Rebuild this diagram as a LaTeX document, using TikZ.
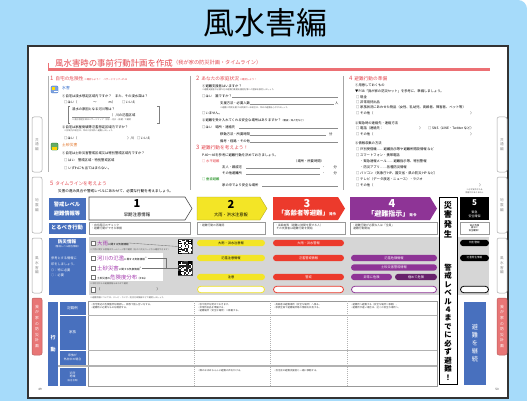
\documentclass[tikz,border=0pt]{standalone}
\usepackage{fontspec}
\setmainfont{Noto Sans CJK JP}
\definecolor{bgblue}{RGB}{166,219,250}
\definecolor{hdred}{RGB}{228,72,80}
\definecolor{barred}{RGB}{236,112,116}
\definecolor{lvblue}{RGB}{72,112,190}
\definecolor{lvyellow}{RGB}{243,229,38}
\definecolor{lvred}{RGB}{236,58,44}
\definecolor{lvpurple}{RGB}{142,52,150}
\definecolor{lvdeep}{RGB}{104,34,108}
\definecolor{areagray}{RGB}{214,214,214}
\definecolor{tabred}{RGB}{232,118,118}
\definecolor{infopurple}{RGB}{165,60,175}
\definecolor{suiblue}{RGB}{40,100,200}
\definecolor{doshaorange}{RGB}{225,110,30}
\tikzset{
  bodytxt/.style={inner sep=0pt,anchor=west,font=\fontsize{3.3}{4}\selectfont},
  tinytxt/.style={inner sep=0pt,anchor=west,text=black!65,font=\fontsize{2.1}{2.8}\selectfont},
  sechead/.style={inner sep=0pt,anchor=west,text=hdred,font=\fontsize{4.7}{5}\selectfont},
  bluelbl/.style={fill=lvblue,draw=white,line width=.5pt,text=white,align=center,inner sep=0pt},
  pillbox/.style={rounded corners=3.2pt,minimum height=6.4pt,inner sep=0pt,font=\fontsize{3.2}{3.2}\selectfont},
  sidetab/.style={draw=black!35,fill=white,rounded corners=2pt,line width=.5pt,minimum width=10pt,inner sep=0pt,text=black!45,align=center,font=\fontsize{3.6}{4.8}\selectfont},
  chkbox/.style={draw=black!55,fill=white,line width=.3pt,minimum size=4.4pt,inner sep=0pt},
  levelnum/.style={inner sep=0pt,font=\fontsize{11}{11}\selectfont\bfseries},
  rowtxt/.style={inner sep=0pt,anchor=north west,align=left,text=black!75,font=\fontsize{2.4}{3.2}\selectfont},
  fillline/.style={black!45,line width=.3pt},
}
\begin{document}
\begin{tikzpicture}[x=1pt,y=-1pt]
\useasboundingbox (0,0) rectangle (527,401);
\fill[white] (0,0) rectangle (527,401);
\fill[bgblue,rounded corners=9pt] (0,0) rectangle (527,401);
\fill[bgblue] (0,0) rectangle (20,20);
\fill[bgblue] (0,381) rectangle (20,401);
\fill[bgblue] (507,381) rectangle (527,401);
\node[inner sep=0pt,font=\fontsize{31}{31}\selectfont] (title) at (265,23) {風水害編};

\draw[fill=white,draw=black!80,line width=1.2pt] (28,46) rectangle (508,398);

\node[sidetab,minimum height=55pt] (tabL1) at (37,144.5) {共\\通\\編};
\node[sidetab,minimum height=56pt] (tabL2) at (37,205) {地\\震\\編};
\node[sidetab,minimum height=55pt] (tabL3) at (37,265.5) {風\\水\\害\\編};
\node[sidetab,minimum height=57pt,fill=tabred,draw=tabred!80!black,text=white,font=\fontsize{3.8}{5.6}\selectfont] (tabL4) at (37,326.5) {我\\が\\家\\の\\防\\災\\計\\画};
\node[sidetab,minimum height=55pt] (tabR1) at (502,144.5) {共\\通\\編};
\node[sidetab,minimum height=56pt] (tabR2) at (502,205) {地\\震\\編};
\node[sidetab,minimum height=55pt] (tabR3) at (502,265.5) {風\\水\\害\\編};
\node[sidetab,minimum height=57pt,fill=tabred,draw=tabred!80!black,text=white,font=\fontsize{3.8}{5.6}\selectfont] (tabR4) at (502,326.5) {我\\が\\家\\の\\防\\災\\計\\画};

\draw[barred,line width=2.4pt] (48,69.5) -- (490,69.5);
\draw[barred,line width=1pt] (48.5,63) -- (48.5,69);
\node[inner sep=0pt,anchor=west,text=hdred,font=\fontsize{8.4}{9}\selectfont] (head) at (55,63) {風水害時の事前行動計画を作成};
\node[inner sep=0pt,anchor=west,text=hdred,font=\fontsize{5.2}{6}\selectfont] (headsub) at (head.east) {（我が家の防災計画・タイムライン）};

\draw[black!30,line width=.5pt] (48.5,76) -- (48.5,172);
\draw[black!35,line width=.4pt] (190,76) -- (190,190);
\draw[black!35,line width=.4pt] (343,76) -- (343,190);

\node[sechead] (s1) at (50,79) {{\fontsize{6}{6}\selectfont 1}\, 自宅の危険性\,{\fontsize{2.4}{3}\selectfont ※確認しよう！　ハザードマップ→P.44}};
\node[fill=suiblue!60,draw=suiblue,line width=.3pt,minimum size=7pt,inner sep=0pt,rounded corners=1pt] (iconA) at (54.5,89.5) {};
\fill[yellow!80!orange] (52,87) rectangle (55,90);
\fill[white] (54,91) rectangle (57.5,92.5);
\node[bodytxt,text=suiblue,font=\fontsize{3.8}{4}\selectfont] (suigai) at (62,88) {水害};
\node[bodytxt] (q11) at (62,96) {①自宅は浸水想定区域内ですか？　また、その浸水深は？};
\node[bodytxt] (q11a) at (64,102) {□はい（\hspace{16pt}～\hspace{12pt}m）};
\node[bodytxt] (q11b) at (122,102) {□いいえ};
\draw[black!50,line width=.3pt] (70,106) -- (68,106) -- (68,123) -- (70,123);
\draw[black!50,line width=.3pt] (157,106) -- (159,106) -- (159,123) -- (157,123);
\node[bodytxt] (q11c) at (72,109) {浸水の原因となる河川等は？};
\node[bodytxt] (q11d) at (72,115) {\hspace{40pt}）川の氾濫区域};
\draw[fillline] (72,117) -- (110,117);
\node[tinytxt] (q11e) at (72,120) {※浸水想定区域はハザードマップ（洪水・内水・高潮）で確認};
\node[bodytxt] (q12) at (62,127) {②自宅は家屋倒壊等氾濫想定区域内ですか？};
\node[tinytxt] (q12n) at (64,131) {※区域内の場合は、早めに区域外へ避難しましょう。};
\node[bodytxt] (q12a) at (64,138) {□はい（\hspace{50pt}）川};
\node[bodytxt] (q12b) at (137,138) {□いいえ};
\node[fill=green!45!black!60,draw=green!40!black,line width=.3pt,minimum size=7pt,inner sep=0pt,rounded corners=1pt] (iconB) at (54.5,146.5) {};
\fill[yellow!70!orange] (52,147) rectangle (57,149.5);
\node[bodytxt,text=doshaorange,font=\fontsize{3.8}{4}\selectfont] (dosha) at (62,145) {土砂災害};
\node[bodytxt] (q13) at (62,153) {①自宅は土砂災害警戒区域又は特別警戒区域内ですか？};
\node[bodytxt] (q13a) at (64,160) {□ はい　警戒区域・特別警戒区域};
\node[bodytxt] (q13b) at (64,168) {□ いずれにも当てはまらない。};

\node[sechead] (s2) at (196,79) {{\fontsize{6}{6}\selectfont 2}\, あなたの家庭状況\,{\fontsize{2.4}{3}\selectfont ※確認しよう！}};
\node[bodytxt] (q21) at (202,86) {①避難支援者はいますか？};
\node[tinytxt] (q21n) at (202,90) {※避難支援者が必要な方は避難行動要支援者名簿への登録を検討しましょう。};
\node[bodytxt] (q21a) at (202,96) {□はい　誰ですか？};
\draw[fillline] (232,97.5) -- (338,97.5);
\node[bodytxt] (q21b) at (220,103) {支援方法・必要人数};
\draw[fillline] (250,104.5) -- (334,104.5);
\node[bodytxt] (q21c) at (335,103) {人};
\node[tinytxt] (q21d) at (220,107.5) {※避難に時間を要する家族がいる場合は、早めの避難を心がけましょう。};
\node[bodytxt] (q21e) at (202,113) {□いません。};
\node[bodytxt] (q22) at (202,120) {②避難を受け入れてくれる安全な場所はありますか？{\fontsize{2.4}{3}\selectfont（親戚・知人宅など）}};
\node[bodytxt] (q22a) at (202,127) {□はい　場所・連絡先};
\draw[fillline] (239,128.5) -- (338,128.5);
\node[bodytxt] (q22b) at (220,134) {移動方法・所要時間};
\draw[fillline] (250,135.5) -- (326,135.5);
\node[bodytxt] (q22c) at (329,134) {分};
\node[bodytxt] (q22d) at (220,141) {備考・経路・その他};
\draw[fillline] (250,142.5) -- (338,142.5);

\node[sechead] (s3) at (196,148) {{\fontsize{6}{6}\selectfont 3}\, 避難行動を考えよう！};
\node[bodytxt] (q31) at (202,155) {P.40〜46を参考に避難行動を決めておきましょう。};
\node[bodytxt] (q31a) at (202,161) {\textcolor{hdred}{□ 水平避難}};
\node[bodytxt] (q31b) at (294,161) {（場所・所要時間）};
\node[bodytxt] (q31c) at (222,167) {友人・親戚宅};
\draw[fillline] (246,168.5) -- (320,168.5);
\node[bodytxt] (q31d) at (322,167) {・\hspace{8pt}分};
\node[bodytxt] (q31e) at (222,173) {その他避難所};
\draw[fillline] (246,174.5) -- (320,174.5);
\node[bodytxt] (q31f) at (322,173) {・\hspace{8pt}分};
\node[bodytxt] (q31g) at (202,179) {\textcolor{green!50!black}{□ 垂直避難}};
\node[bodytxt] (q31h) at (222,185) {家の中でより安全な場所};
\draw[fillline] (262,186.5) -- (338,186.5);

\node[sechead] (s4) at (349,79) {{\fontsize{6}{6}\selectfont 4}\, 避難行動の準備};
\node[bodytxt] (q41) at (355,85) {①用意しておくもの};
\node[bodytxt] (q41a) at (355,91) {▼P.38「我が家の防災セット」を参考に、準備しましょう。};
\node[bodytxt] (q41b) at (356,97) {□ 現金};
\node[bodytxt] (q41c) at (356,102) {□ 非常用持出品};
\node[bodytxt] (q41d) at (356,107.5) {□ 家族状況にあわせた物品（女性、乳幼児、高齢者、障害者、ペット等）};
\node[bodytxt] (q41e) at (356,113) {□ その他（\hspace{97pt}）};
\node[bodytxt] (q42) at (355,123) {②緊急時の連絡先・連絡方法};
\node[bodytxt] (q42a) at (356,128.5) {□ 電話（連絡先：\hspace{36pt}）};
\node[bodytxt] (q42b) at (428,128.5) {□ SNS（LINE・Twitter など）};
\node[bodytxt] (q42c) at (356,134) {□ その他（\hspace{97pt}）};
\node[bodytxt] (q43) at (355,143) {③情報収集の方法};
\node[bodytxt] (q43a) at (356,149) {□ 戸別受信機……避難指示等や避難所開設情報 など};
\node[bodytxt] (q43b) at (356,155) {□ スマートフォン・携帯電話};
\node[bodytxt] (q43c) at (360,161) {・緊急速報メール……避難指示等、特別警報};
\node[bodytxt] (q43d) at (360,167) {・防災アプリ……各種防災情報};
\node[bodytxt] (q43e) at (356,173) {□ パソコン（気象庁 HP、国交省・県の防災 HP など）};
\node[bodytxt] (q43f) at (356,179) {□ テレビ（データ放送・ニュース）・ラジオ};
\node[bodytxt] (q43g) at (356,185) {□ その他（\hspace{106pt}）};

\node[sechead] (s5) at (50,184) {{\fontsize{6}{6}\selectfont 5}\, タイムラインを考えよう};
\node[bodytxt,font=\fontsize{3.6}{4}\selectfont] (s5sub) at (58,191) {災害の進み具合や警戒レベルにあわせて、必要な行動を考えましょう。};

\node[bluelbl,minimum width=38pt,minimum height=23pt,font=\fontsize{5.3}{9}\selectfont\bfseries] (lvlbl) at (67,208.5) {警戒レベル\\避難情報等};
\draw[fill=white,draw=black!70,line width=.6pt] (89,197) -- (185,197) -- (192,208.5) -- (185,220) -- (89,220) -- cycle;
\draw[fill=lvyellow,draw=lvyellow!70!black,line width=.3pt] (197,197) -- (260,197) -- (267,208.5) -- (260,220) -- (197,220) -- cycle;
\fill[lvred] (273,197) -- (338,197) -- (345,208.5) -- (338,220) -- (273,220) -- cycle;
\fill[lvpurple] (350,197) -- (430,197) -- (437,208.5) -- (430,220) -- (350,220) -- cycle;
\node[levelnum] (lv1num) at (137,204) {1};
\node[inner sep=0pt,font=\fontsize{4.4}{5}\selectfont] (lv1txt) at (137,214.5) {早期注意情報};
\node[levelnum] (lv2num) at (231,204) {2};
\node[inner sep=0pt,font=\fontsize{4.2}{5}\selectfont] (lv2txt) at (231,214.5) {大雨・洪水注意報};
\node[levelnum,text=white] (lv3num) at (307,203.5) {3};
\node[inner sep=0pt,text=white,font=\fontsize{6.4}{7}\selectfont\bfseries] (lv3txt) at (307,213.5) {「高齢者等避難」{\fontsize{3.6}{4}\selectfont 発令}};
\node[levelnum,text=white] (lv4num) at (392,203.5) {4};
\node[inner sep=0pt,text=white,font=\fontsize{7}{7}\selectfont\bfseries] (lv4txt) at (392,213.5) {「避難指示」{\fontsize{3.6}{4}\selectfont 発令}};
\node[fill=black,minimum width=29pt,minimum height=23pt,inner sep=0pt] (lv5box) at (474.5,208.5) {};
\node[inner sep=0pt,text=white,font=\fontsize{8}{8}\selectfont\bfseries] (lv5num) at (474.5,203) {5};
\node[inner sep=0pt,text=white,align=center,font=\fontsize{3}{3.6}\selectfont] (lv5txt) at (474.5,214.5) {緊急\\安全確保};
\node[inner sep=0pt,align=center,text=black!70,font=\fontsize{2}{2.5}\selectfont] (lv5note) at (474.5,191) {※必ず発令される\\情報ではありません};

\node[bluelbl,minimum width=38pt,minimum height=12pt,font=\fontsize{5.3}{6}\selectfont\bfseries] (actlbl) at (67,228) {とるべき行動};
\node[draw=black!40,line width=.4pt,minimum width=101pt,minimum height=12pt,inner sep=0pt] (act1) at (139.5,228) {};
\node[rowtxt,font=\fontsize{2.8}{3.6}\selectfont] (act1t) at (91,223.5) {・自宅周辺のチェック\\・避難行動ができる準備};
\node[draw=black!40,line width=.4pt,minimum width=68pt,minimum height=12pt,inner sep=0pt] (act2) at (231,228) {};
\node[rowtxt,font=\fontsize{2.8}{3.6}\selectfont] (act2t) at (199,223.5) {・避難行動の再確認};
\node[draw=black!40,line width=.4pt,minimum width=72pt,minimum height=12pt,inner sep=0pt] (act3) at (309,228) {};
\node[rowtxt,font=\fontsize{2.8}{3.6}\selectfont] (act3t) at (275,223.5) {・高齢者等（避難に時間を要する人）\\\ \,その支援者は避難行動を開始};
\node[draw=black!40,line width=.4pt,minimum width=87pt,minimum height=12pt,inner sep=0pt] (act4) at (393.5,228) {};
\node[rowtxt,font=\fontsize{2.8}{3.6}\selectfont] (act4t) at (352,223.5) {・避難行動が必要な人は「全員」\\\ \,避難行動開始};
\node[draw=black!40,line width=.4pt,minimum width=29pt,minimum height=12pt,inner sep=0pt,align=center,font=\fontsize{2.3}{2.8}\selectfont] (act5) at (474.5,228) {命の危険\\直ちに\\安全確保！};

\fill[areagray] (89,237) rectangle (489,295);
\node[bluelbl,minimum width=38pt,minimum height=58pt] (infolbl) at (67,266) {};
\node[inner sep=0pt,text=white,align=center,font=\fontsize{4.6}{5}\selectfont\bfseries] (infot1) at (67,242) {防災情報};
\node[inner sep=0pt,text=white,align=center,font=\fontsize{2.4}{3}\selectfont] (infot2) at (67,247) {（警戒レベル相当情報）};
\node[inner sep=0pt,anchor=west,text=white,align=left,font=\fontsize{3.2}{5.6}\selectfont] (infot3) at (51,267) {参考とする情報に\\印をしましょう。\\◎：特に必要\\○：必要};

\fill[white] (88.5,253) rectangle (163,281);
\node[chkbox] (cbA) at (93,243) {};
\node[inner sep=0pt,anchor=west,font=\fontsize{2.6}{3}\selectfont] (oame) at (97,243) {{\color{infopurple}\fontsize{5.4}{5.4}\selectfont 大雨}に関する気象情報};
\node[tinytxt] (noteA) at (90,249.5) {※大雨に関する情報はホームページ等で確認（右の二次元コードから確認できます）};
\node[chkbox] (cbB) at (93,258) {};
\node[inner sep=0pt,anchor=west,font=\fontsize{2.6}{3}\selectfont] (kasen) at (97,258) {{\color{infopurple}\fontsize{5.4}{5.4}\selectfont 河川の氾濫}に関する気象情報\textsuperscript{※}};
\node[chkbox] (cbC) at (93,268) {};
\node[inner sep=0pt,anchor=west,font=\fontsize{2.6}{3}\selectfont] (doshainfo) at (97,268) {{\color{infopurple}\fontsize{5.4}{5.4}\selectfont 土砂災害}に関する気象情報\textsuperscript{※}};
\node[chkbox] (cbD) at (93,277) {};
\node[inner sep=0pt,anchor=west,font=\fontsize{2.6}{3}\selectfont] (kikendo) at (97,277) {土砂災害の{\color{infopurple}\fontsize{5.4}{5.4}\selectfont 危険度分布}（P.56）};
\node[tinytxt] (noteB) at (90,283.5) {※市町村からの避難情報もあわせて確認};
\node[chkbox] (cbE) at (93,289.5) {};
\node[bodytxt] (other) at (97,289.5) {（\hspace{56pt}）};
\node[tinytxt] (noteC) at (90,298) {※避難情報については、テレビ・ラジオ・防災行政無線などで確認しましょう。};

\node[draw=black!70,fill=white,minimum size=14pt,inner sep=0pt] (qrA) at (185,246.5) {};
\node[draw=black!70,fill=white,minimum size=14pt,inner sep=0pt] (qrB) at (185,268) {};
\pgfmathsetseed{17}
\foreach \qx/\qy in {178/239.5,178/261}{
  \foreach \i in {0,...,9}{
    \foreach \j in {0,...,9}{
      \pgfmathrandominteger{\qbit}{0}{1}
      \ifnum\qbit=1 \fill[black!85] (\qx+\i*1.4,\qy+\j*1.4) rectangle ++(1.4,1.4);\fi
    }
  }
  \foreach \fx/\fy in {0/0,9.8/0,0/9.8}{
    \fill[black] (\qx+\fx,\qy+\fy) rectangle ++(4.2,4.2);
    \fill[white] (\qx+\fx+.7,\qy+\fy+.7) rectangle ++(2.8,2.8);
    \fill[black] (\qx+\fx+1.4,\qy+\fy+1.4) rectangle ++(1.4,1.4);
  }
}
\coordinate (brk) at (166,268);
\draw[black!55,line width=.35pt] (oame.east) -- (qrA.west);
\draw[black!55,line width=.35pt] (kasen.east) -| (brk) -- (qrB.west);
\draw[black!55,line width=.35pt] (doshainfo.east) -| (brk);

\node[pillbox,fill=lvyellow,minimum width=68pt] (p2a) at (231,243) {大雨・洪水注意報};
\node[pillbox,fill=lvyellow,minimum width=68pt] (p2b) at (231,258) {氾濫注意情報};
\node[pillbox,fill=lvyellow,minimum width=68pt] (p2c) at (231,277) {注意};
\node[pillbox,fill=white,draw=lvyellow,line width=.8pt,minimum width=67pt] (p2d) at (231,289.5) {};
\node[pillbox,fill=lvred,text=white,minimum width=71pt] (p3a) at (308.5,243) {大雨・洪水警報};
\node[pillbox,fill=lvred,text=white,minimum width=71pt] (p3b) at (308.5,258) {氾濫警戒情報};
\node[pillbox,fill=lvred,text=white,minimum width=71pt] (p3c) at (308.5,277) {警戒};
\node[pillbox,fill=white,draw=lvred,line width=.8pt,minimum width=70pt] (p3d) at (308.5,289.5) {};
\node[pillbox,fill=lvpurple,text=white,minimum width=86pt] (p4a) at (394,258) {氾濫危険情報};
\node[pillbox,fill=lvpurple,text=white,minimum width=86pt] (p4b) at (394,267.5) {土砂災害警戒情報};
\node[pillbox,fill=lvpurple,text=white,minimum width=41pt] (p4c) at (371.5,277) {非常に危険};
\node[pillbox,fill=lvdeep,text=white,minimum width=42pt] (p4d) at (416,277) {極めて危険};
\node[pillbox,fill=white,draw=lvpurple,line width=.8pt,minimum width=85pt] (p4e) at (394,289.5) {};
\node[pillbox,fill=black,text=white,minimum width=29pt,font=\fontsize{2.6}{3}\selectfont] (p5a) at (474.5,243) {特別警報};
\node[pillbox,fill=black,text=white,minimum width=29pt,font=\fontsize{2.6}{3}\selectfont] (p5b) at (474.5,258) {氾濫発生情報};
\node[pillbox,fill=white,draw=black,line width=.8pt,minimum width=28pt] (p5c) at (474.5,289.5) {};

\node[bluelbl,minimum width=11pt,minimum height=85pt,font=\fontsize{5}{12}\selectfont\bfseries] (koudou) at (53,343.5) {行\\動};
\node[bluelbl,minimum width=27pt,minimum height=14pt,font=\fontsize{3.5}{4}\selectfont] (rowEx) at (72.5,308) {記載例};
\node[bluelbl,minimum width=27pt,minimum height=35pt,font=\fontsize{3.5}{4}\selectfont] (rowFam) at (72.5,332.5) {家族};
\node[bluelbl,minimum width=27pt,minimum height=15pt,font=\fontsize{2.9}{3.6}\selectfont] (rowOut) at (72.5,357.5) {家族が\\外出中の場合};
\node[bluelbl,minimum width=27pt,minimum height=19pt,font=\fontsize{2.9}{3.6}\selectfont] (rowNbr) at (72.5,376.5) {近所\\地域\\{\fontsize{2.3}{3}\selectfont（自治会等）}};

\draw[black!40,line width=.4pt] (88,301) rectangle (437,386);
\draw[black!30,line width=.4pt] (88,315) -- (437,315);
\draw[black!30,line width=.4pt] (88,350) -- (437,350);
\draw[black!30,line width=1.3pt] (58,366) -- (437,366);
\foreach \cx in {194,270,347}
  \draw[black!30,line width=.4pt,dash pattern=on 1pt off 1pt] (\cx,301) -- (\cx,386);
\node[rowtxt] (ex1) at (90,303) {・自宅周辺の危険箇所を確認し、家族で話し合いをする。\\・避難時に必要なものを確認する。};
\node[rowtxt] (ex2) at (197,303) {・窓や雨戸を閉めておきます。\\・非常持出品を準備する。\\・避難場所（安全な場所）へ移動する。};
\node[rowtxt] (ex3) at (273,303) {・高齢者は避難場所（安全な場所）へ移る。\\・家族全員で避難場所等の情報を共有する。};
\node[rowtxt] (ex4) at (350,303) {・避難所へ避難する（安全な場所へ移動）。\\・避難所が遠い場合は、近くの安全な場所へ。};
\node[rowtxt] (nb2) at (197,369) {・隣のおばあちゃんに避難の声をかける。};
\node[rowtxt] (nb3) at (273,369) {・自治会の避難支援者と一緒に移動する。};

\draw[fill=white,draw=black,line width=1pt] (439,197) rectangle (457,384);
\node[inner sep=0pt,align=center,font=\fontsize{8.2}{9.6}\selectfont\bfseries] (saigai) at (448,219.5) {災\\害\\発\\生};
\node[inner sep=0pt,align=center,font=\fontsize{7.4}{8.45}\selectfont\bfseries] (keikai) at (448,322) {警\\戒\\レ\\ベ\\ル\\４\\ま\\で\\に\\必\\ず\\避\\難\\！};
\node[bluelbl,draw=none,minimum width=22pt,minimum height=83pt,font=\fontsize{6.2}{8}\selectfont] (keizoku) at (475,343.5) {避\\難\\を\\継\\続};

\node[inner sep=0pt,text=black!70,font=\fontsize{3}{3}\selectfont] (pg49) at (40,389) {49};
\node[inner sep=0pt,text=black!70,font=\fontsize{3}{3}\selectfont] (pg50) at (497,389) {50};
\end{tikzpicture}
\end{document}
